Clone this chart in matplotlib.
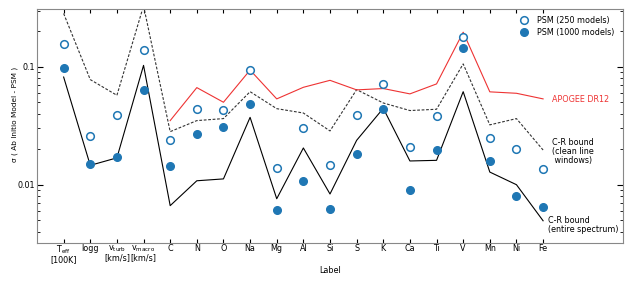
import matplotlib
matplotlib.use("Agg")
import matplotlib.pyplot as plt
import numpy as np
from matplotlib.ticker import LogLocator, FixedLocator, NullFormatter

labels = ["T$_{\\rm eff}$\n[100K]", "logg", "v$_{\\rm turb}$\n[km/s]", "v$_{\\rm macro}$\n[km/s]",
          "C", "N", "O", "Na", "Mg", "Al", "Si", "S", "K", "Ca", "Ti", "V", "Mn", "Ni", "Fe"]

psm_250 = [0.157, 0.026, 0.039, 0.138, 0.0241, 0.044, 0.0431, 0.094, 0.0139, 0.0305,
           0.0146, 0.039, 0.0717, 0.021, 0.0384, 0.180, 0.0247, 0.020, 0.0137]
psm_1000 = [0.097, 0.0149, 0.0172, 0.0638, 0.0145, 0.027, 0.0307, 0.0486, 0.00605, 0.0108,
            0.00626, 0.0181, 0.0437, 0.0090, 0.0198, 0.145, 0.0159, 0.00796, 0.00641]
cr_clean = [0.284, 0.078, 0.0574, 0.33, 0.0282, 0.035, 0.0364, 0.0616, 0.0442, 0.0406,
            0.0286, 0.0641, 0.0494, 0.0426, 0.0437, 0.106, 0.0322, 0.0364, 0.0197]
cr_entire = [0.082, 0.0146, 0.0169, 0.103, 0.00664, 0.0108, 0.0112, 0.0373, 0.0076, 0.0205,
             0.00834, 0.0238, 0.0445, 0.0159, 0.0161, 0.0616, 0.0128, 0.0100, 0.00494]
apogee = [0.035, 0.0667, 0.0501, 0.094, 0.0535, 0.0671, 0.0769, 0.0638, 0.0655, 0.059,
          0.0717, 0.197, 0.0614, 0.0597, 0.0535]

fs = 5.8
plt.rcParams['font.size'] = fs
fig = plt.figure(figsize=(6.31, 2.81), dpi=100)
ax = fig.add_axes([37/631, 1-243/281, (623-37)/631, (243-9)/281])

x = np.arange(len(labels))
blue = '#1f77b4'
ax.plot(x, cr_clean, color='#333333', lw=0.8, dashes=(2.5, 1.5))
ax.plot(x, cr_entire, color='black', lw=0.8)
ax.plot(x[4:], apogee, color='#ee3333', lw=0.8)
ax.plot(x, psm_250, 'o', ms=5.5, mfc='white', mec=blue, mew=1.1, ls='none', label='PSM (250 models)')
ax.plot(x, psm_1000, 'o', ms=5.5, mfc=blue, mec=blue, ls='none', label='PSM (1000 models)')

ax.set_yscale('log')
ax.set_ylim(0.0032, 0.31)
ax.set_xlim(-1, 21)
ax.set_xticks(x)
ax.set_xticklabels(labels, linespacing=0.9)
ax.yaxis.set_major_locator(FixedLocator([0.01, 0.1]))
ax.set_yticklabels(['0.01', '0.1'])
ax.yaxis.set_minor_locator(LogLocator(base=10, subs=np.arange(2, 10)))
ax.yaxis.set_minor_formatter(NullFormatter())
ax.tick_params(which='both', direction='in', top=True, right=True, pad=1.5)
ax.tick_params(axis='x', pad=0.5)
ax.tick_params(which='major', length=4, width=0.8)
ax.tick_params(which='minor', length=2, width=0.6)
ax.tick_params(axis='x', length=3)
for s in ax.spines.values():
    s.set_color('#888888')
    s.set_linewidth(0.8)

ax.set_ylabel('σ ( Ab Initio Model - PSM )', fontsize=5.3)
ax.yaxis.set_label_coords(-0.033, 0.55)
ax.set_xlabel('Label', fontsize=fs, labelpad=1)

ax.text(18.35, 0.053, 'APOGEE DR12', color='#ee3333', fontsize=fs, va='center')
ax.text(18.35, 0.0248, 'C-R bound\n(clean line\n windows)', fontsize=fs, va='top', linespacing=0.95)
ax.text(18.2, 0.0054, 'C-R bound\n(entire spectrum)', fontsize=fs, va='top', linespacing=0.95)

ax.legend(loc='upper right', frameon=False, fontsize=fs, handletextpad=0.7,
          borderaxespad=0.5, labelspacing=0.35, markerscale=1.0, numpoints=1,
          bbox_to_anchor=(0.998, 1.0))

fig.savefig('out.png', dpi=100)
